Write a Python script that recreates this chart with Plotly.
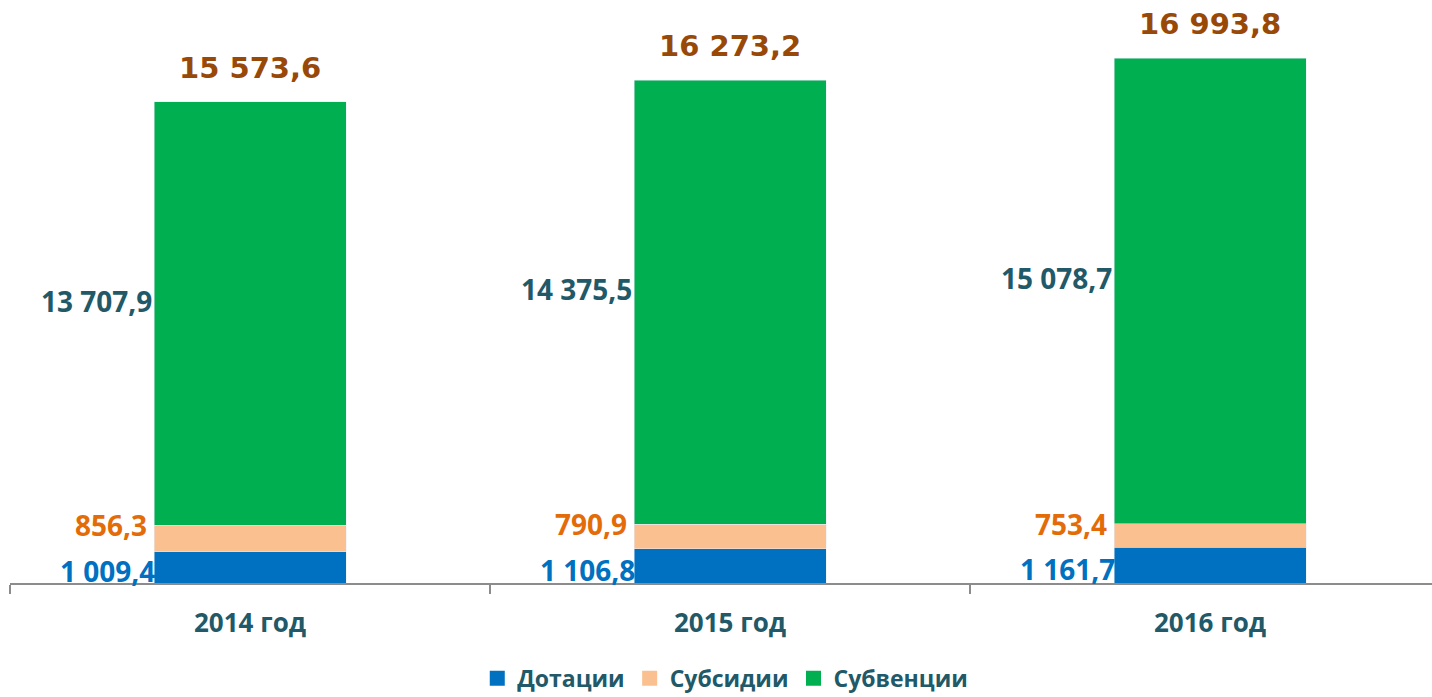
import plotly.graph_objects as go

# Budget transfers by year, mln rub.
years = ["2014 год", "2015 год", "2016 год"]
dotacii = [1009.4, 1106.8, 1161.7]
subsidii = [856.3, 790.9, 753.4]
subvencii = [13707.9, 14375.5, 15078.7]
totals = [15573.6, 16273.2, 16993.8]

series_names = ["Дотации", "Субсидии", "Субвенции"]
series_colors = ["#0070C0", "#FAC090", "#00B050"]

x = list(range(len(years)))
bar_w = 0.4

FONT = "Open Sans"
TEAL = "#215968"


def fmt(v):
    s = f"{v:,.1f}"
    return s.replace(",", " ").replace(".", ",")


fig = go.Figure()
for name, vals, col in zip(series_names, [dotacii, subsidii, subvencii], series_colors):
    fig.add_bar(x=x, y=vals, name=name, marker_color=col, width=bar_w,
                legendgroup=name, showlegend=False)
    # legend entry with a larger square swatch
    fig.add_scatter(x=[None], y=[None], mode="markers", name=name, legendgroup=name,
                    marker=dict(symbol="square", size=15, color=col), showlegend=True)

ann = []
for i in x:
    left = i - bar_w / 2
    ann.append(dict(x=left, y=dotacii[i] / 2, text=f"<b>{fmt(dotacii[i])}</b>",
                    xanchor="right", yanchor="middle", xshift=3, yshift=-4,
                    font=dict(family=FONT, size=28, color="#0070C0")))
    ann.append(dict(x=left, y=dotacii[i] + subsidii[i], text=f"<b>{fmt(subsidii[i])}</b>",
                    xanchor="right", yanchor="middle", xshift=-5, yshift=0,
                    font=dict(family=FONT, size=28, color="#E36C09")))
    ann.append(dict(x=left, y=dotacii[i] + subsidii[i] + subvencii[i] / 2,
                    text=f"<b>{fmt(subvencii[i])}</b>",
                    xanchor="right", yanchor="middle", xshift=0, yshift=13,
                    font=dict(family=FONT, size=28, color=TEAL)))
    ann.append(dict(x=i, y=totals[i], text=f"<b>{fmt(totals[i])}</b>",
                    xanchor="center", yanchor="middle", yshift=34,
                    font=dict(family="DejaVu Sans", size=29, color="#984807")))
for a in ann:
    a.update(xref="x", yref="y", showarrow=False)

fig.update_layout(
    barmode="stack",
    width=1432, height=697,
    margin=dict(l=10, r=0, t=10, b=114, autoexpand=False),
    plot_bgcolor="white", paper_bgcolor="white",
    annotations=ann,
    showlegend=True,
    legend=dict(orientation="h", x=0.503, xanchor="center",
                yref="container", y=0.027, yanchor="middle",
                font=dict(family=FONT, size=23, color=TEAL, weight="bold"),
                itemsizing="trace", traceorder="normal"),
    xaxis=dict(
        range=[-0.5, 2.4625], tickvals=x, ticktext=years, ticks="",
        showline=True, linecolor="#8C8C8C", linewidth=1.5, showgrid=False,
        zeroline=False, ticklabelstandoff=16, automargin=False,
        tickfont=dict(family=FONT, size=26, color=TEAL, weight="bold"),
        minor=dict(tick0=-0.5, dtick=1, ticks="outside", ticklen=9,
                   tickcolor="#8C8C8C", tickwidth=1.5, showgrid=False),
    ),
    yaxis=dict(range=[0, 18552], visible=False, showgrid=False, zeroline=False),
)

fig.write_html("out.html")
